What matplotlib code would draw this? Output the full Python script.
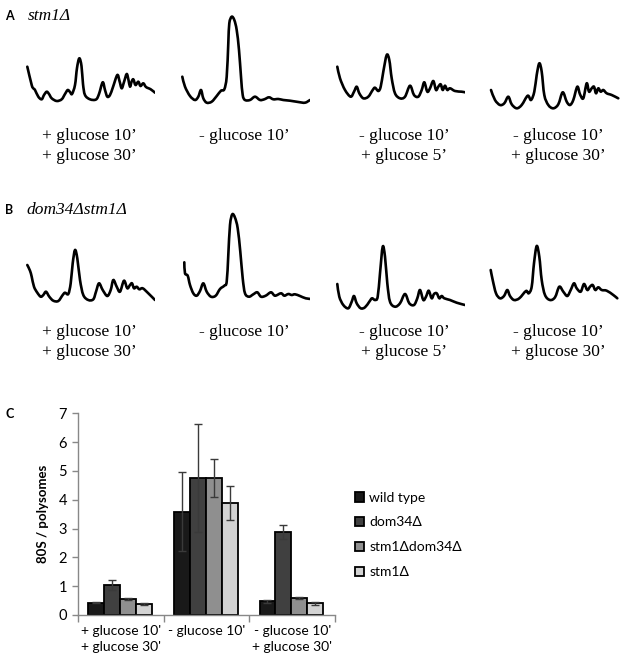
import numpy as np
import matplotlib
matplotlib.use("Agg")
import matplotlib.pyplot as plt
import matplotlib.transforms as mtransforms
from matplotlib.patches import Patch, PathPatch
from matplotlib.path import Path

# polysome profiles (x along gradient, height of A254 trace)
a1_x = [7.3, 11.7, 13.3, 15, 18.3, 21.7, 24, 26.7, 29, 31.7, 36.7, 41.7, 45, 47.7, 50, 52, 55, 57, 59.3, 61.5,
        63, 65, 70, 76, 79, 82.7, 85, 87.3, 90, 93, 97.3, 99.5, 101.7, 104, 106.7, 108.5, 110, 111.5, 113.3,
        115.5, 118.3, 120.5, 123.3, 126, 130.7, 135]
a1_y = [45.3, 27, 23.7, 22, 15.3, 12.7, 17, 20.3, 18, 13.7, 11, 12.7, 18, 22, 20, 18, 27, 44, 53.7, 46,
        28, 17, 12.7, 12.5, 18, 29.7, 22, 15.3, 17, 25, 37, 31, 23.7, 30, 38, 32, 25.3, 30, 32.7,
        27, 30.3, 26, 28.7, 25, 22.7, 19.3]
a2_x = [7.3, 10, 15, 20, 23.3, 26, 28.3, 31.7, 36.7, 41.7, 46, 49.3, 51.7, 53.3, 54.3, 56.7, 59.3, 61.7, 64, 66,
        67.7, 70, 75, 80, 85, 89.3, 94, 98.3, 103.3, 108.3, 115, 123.3, 130, 135]
a2_y = [35.3, 25.3, 16, 12, 15.3, 22, 13.7, 9.3, 10.3, 16, 21.3, 22.7, 35.3, 68.7, 88.7, 95.3, 92, 82, 62, 35.3,
        17, 12, 12, 15.3, 12, 12.7, 14.7, 12.7, 13, 12, 11.3, 10, 9.3, 12]
a3_x = [7.3, 10, 15, 20.7, 24, 26.7, 29.3, 33.3, 38.3, 42.7, 45, 48.3, 50.7, 53.3, 56.7, 59.3, 61.7, 65, 70, 75,
        80, 84, 88.3, 91.7, 94.3, 97.3, 100, 103.3, 106, 108.3, 110.7, 112.7, 115, 117.3, 120, 125, 131.7, 135]
a3_y = [45.3, 33.7, 22, 15.3, 20.3, 25.3, 18.7, 13.7, 15.3, 22, 24.3, 21, 25.3, 40.3, 57, 52, 33.7, 18.7, 13.7, 15.3,
        26.3, 17, 15.3, 22, 29.7, 20.3, 23.7, 31, 22, 25.3, 27.7, 22, 26.3, 22, 23.7, 21, 20.3, 19.7]
a4_x = [6, 10, 15, 19.3, 23.3, 26.7, 31.7, 36.7, 42.7, 46, 49.3, 51.7, 54.3, 56.7, 59.3, 63.3, 68.3, 73.3, 77.7,
        81.7, 85, 88.3, 92.3, 95, 98.3, 101.7, 104, 106.7, 109, 111, 113.3, 115.7, 118.3, 121.7, 126.7, 133.3]
a4_y = [22, 12, 7, 8.7, 15.3, 7.7, 3.7, 7, 16.3, 12, 20.3, 37, 48.7, 40.3, 17, 7, 3.7, 7.7, 19.7,
        10.3, 7, 12, 25.3, 17.7, 13.7, 28.7, 20.3, 23.7, 25.3, 18.7, 23.7, 20.3, 22, 18.7, 17, 13.7]

b1_x = [7.3, 10, 11.7, 14, 17.3, 20.7, 23.3, 26, 29.3, 33.3, 38.3, 42.7, 45, 48.3, 50.7, 52.7, 55, 57.3, 60, 63.3,
        68.3, 73.3, 76, 79, 82.7, 87.3, 90.7, 93.3, 96.7, 100, 104, 107.3, 110, 112, 114, 116.7, 119.3, 122.7,
        128.3, 135]
b1_y = [47, 41.3, 35.3, 25.3, 19.3, 15.3, 17, 20.3, 15.3, 11.3, 11, 17, 19.3, 18, 28.7, 48.7, 62, 53.7, 32, 17,
        12, 12.7, 20.3, 28.7, 22, 16, 22, 32, 25.3, 20.3, 31.3, 23.7, 27, 28.7, 23.7, 25.3, 22.7, 23.7,
        18.7, 12]
b2_x = [9.3, 10, 12.7, 15, 18.3, 21.7, 25, 28.3, 31.7, 36, 40.7, 45, 49.3, 51.7, 53.3, 55, 57.3, 60, 62.7, 65.3,
        67.7, 70, 74, 78.3, 82.3, 86, 90.7, 96, 100, 106, 109.3, 113.3, 116.7, 120, 125, 130.7, 136.7]
b2_y = [49.7, 38.7, 36.3, 27, 18.7, 16.3, 21, 28.7, 20.3, 15.3, 16.3, 23, 26.3, 30.3, 57, 87, 97.7, 94.3, 83.7, 60.3,
        33.7, 18.7, 15.3, 17.7, 19.7, 15.3, 16.3, 19.7, 16.3, 18.7, 16.3, 18, 17, 17.7, 16, 13.7, 13]
b3_x = [7.3, 9.3, 13.3, 18.3, 21.7, 24, 26.7, 30.7, 35, 39.3, 42, 45, 47.7, 50, 52.7, 55, 57.3, 60, 65, 70,
        75, 79.3, 84, 87.3, 90, 93.3, 96, 98.7, 101.7, 104, 106.7, 109.3, 111.7, 114.3, 120, 126.7, 135]
b3_y = [28, 15.3, 7, 3.7, 10.3, 16, 8.7, 3.7, 4.7, 10.3, 13.7, 12, 15.3, 38.7, 65.3, 55.3, 28.7, 10.3, 5.3, 8.7,
        18, 8.7, 7, 13.7, 22, 12, 15.3, 21.3, 13.7, 18, 18.7, 13.7, 16, 13.7, 12, 9.3, 7]
b4_x = [5.7, 7.7, 11, 15, 19, 22.3, 25, 29, 34.3, 41, 43.7, 46.7, 49, 51.7, 54.3, 56.7, 60, 65, 70, 74.3,
        78.3, 82.3, 85.7, 89, 91.7, 95.7, 99, 102.3, 105, 107.7, 110.3, 113.3, 116.7, 121.7, 128.3, 132.3]
b4_y = [42, 32, 18.7, 13.7, 16, 22, 16, 12, 13.7, 21, 18.7, 25.3, 48.7, 66, 55.3, 32, 17, 12, 14.7, 25.3,
        20.3, 16, 22, 28.7, 23.7, 20.3, 28, 22, 25.3, 27, 22, 24.7, 22, 21.3, 17, 13.7]

row_a = [(a1_x, a1_y), (a2_x, a2_y), (a3_x, a3_y), (a4_x, a4_y)]
row_b = [(b1_x, b1_y), (b2_x, b2_y), (b3_x, b3_y), (b4_x, b4_y)]
trace_labels = ["+ glucose 10\u2019\n+ glucose 30\u2019", "- glucose 10\u2019",
                "- glucose 10\u2019\n+ glucose 5\u2019", "- glucose 10\u2019\n+ glucose 30\u2019"]

# panel C: 80S / polysome ratio
conditions = ["+ glucose 10'\n+ glucose 30'", "- glucose 10'", "- glucose 10'\n+ glucose 30'"]
strains = ["wild type", "dom34\u0394", "stm1\u0394dom34\u0394", "stm1\u0394"]
ratio = {
    "wild type":        [0.43, 3.58, 0.47],
    "dom34\u0394":           [1.05, 4.75, 2.88],
    "stm1\u0394dom34\u0394":     [0.55, 4.75, 0.59],
    "stm1\u0394":            [0.37, 3.90, 0.40],
}
ratio_err = {
    "wild type":        [0.03, 1.37, 0.05],
    "dom34\u0394":           [0.17, 1.87, 0.23],
    "stm1\u0394dom34\u0394":     [0.03, 0.65, 0.02],
    "stm1\u0394":            [0.03, 0.59, 0.04],
}
bar_colors = ["#191919", "#404040", "#8f8f8f", "#d3d3d3"]

W, H = 620, 661
fig = plt.figure(figsize=(W / 100, H / 100), dpi=100)

serif = ["Liberation Serif", "DejaVu Serif"]
sans = ["Lato", "DejaVu Sans"]

def px_axes(left, top, width, height):
    return fig.add_axes([left / W, 1 - (top + height) / H, width / W, height / H])

# smooth curve through the read points (Catmull-Rom as cubic Bezier path)
def smooth_path(xs, ys):
    p = np.column_stack([xs, ys]).astype(float)
    ext = np.vstack([p[0], p, p[-1]])
    verts = [p[0]]
    codes = [Path.MOVETO]
    for i in range(1, len(ext) - 2):
        c1 = ext[i] + (ext[i + 1] - ext[i - 1]) / 6
        c2 = ext[i + 1] - (ext[i + 2] - ext[i]) / 6
        verts += [c1, c2, ext[i + 1]]
        codes += [Path.CURVE4] * 3
    return Path(verts, codes)

col_left = [20, 175, 330, 485]
col_center = [89, 244, 404, 558]

def draw_row(traces, top, label_y):
    for i, (xs, ys) in enumerate(traces):
        ax = px_axes(col_left[i], top, 135, 100)
        ax.add_patch(PathPatch(smooth_path(xs, ys), facecolor="none", edgecolor="black",
                               lw=1.9, joinstyle="round", capstyle="round"))
        ax.set_xlim(0, 135)
        ax.set_ylim(0, 100)
        ax.axis("off")
        fig.text(col_center[i] / W, 1 - label_y / H, trace_labels[i], ha="center", va="top",
                 family=serif, fontsize=12.5, linespacing=1.3)

draw_row(row_a, 12, 128)
draw_row(row_b, 212, 324)

fig.text(5 / W, 1 - 16 / H, "A", family=sans, weight="bold", fontsize=9, va="center")
fig.text(28 / W, 1 - 16 / H, "stm1\u0394", family=serif, style="italic", fontsize=12.5, va="center")
fig.text(5 / W, 1 - 210 / H, "B", family=sans, weight="bold", fontsize=9, va="center")
fig.text(26 / W, 1 - 210 / H, "dom34\u0394stm1\u0394", family=serif, style="italic", fontsize=12.5, va="center")
fig.text(5 / W, 1 - 414 / H, "C", family=sans, weight="bold", fontsize=9, va="center")

# bar chart
ax = px_axes(78.3, 413.3, 256.7, 201.7)
x = np.arange(len(conditions))
bw = 0.186
handles = []
for k, s in enumerate(strains):
    pos = x + (k - 1.5) * bw - 0.01
    ax.bar(pos, ratio[s], bw, color=bar_colors[k], edgecolor="black", linewidth=1.3, zorder=2)
    ax.errorbar(pos, ratio[s], yerr=ratio_err[s], fmt="none", ecolor="#3a3a3a",
                elinewidth=1, capsize=3, capthick=1, zorder=3)
    handles.append(Patch(facecolor=bar_colors[k], edgecolor="black", linewidth=1.3, label=s))

ax.set_xlim(-0.5, 2.5)
ax.set_ylim(0, 7)
ax.set_yticks(range(8))
ax.set_xticks(x)
ax.set_xticklabels(conditions, family=sans, fontsize=10, linespacing=1.45)
# the middle category label sits a little left in the original
mid = ax.get_xticklabels()[1]
mid.set_transform(mid.get_transform() + mtransforms.ScaledTranslation(-7 / 100, 0, fig.dpi_scale_trans))
ax.set_xticks([-0.5, 0.5, 1.5, 2.5], minor=True)
ax.tick_params(axis="x", which="major", length=0, pad=7)
ax.tick_params(axis="x", which="minor", length=5, color="#888888", width=1)
ax.tick_params(axis="y", length=4, color="#888888", width=1, pad=4)
for lab in ax.get_yticklabels():
    lab.set_family(sans)
    lab.set_fontsize(10.5)
for sp in ["top", "right"]:
    ax.spines[sp].set_visible(False)
for sp in ["left", "bottom"]:
    ax.spines[sp].set_color("#888888")
    ax.spines[sp].set_linewidth(1)
ax.set_ylabel("80S / polysomes", family=sans, weight="bold", fontsize=9.5, labelpad=7)

fig.legend(handles=handles, loc="upper left", bbox_to_anchor=(349 / W, 1 - 486 / H),
           frameon=False, prop={"family": sans, "size": 10}, handlelength=0.7, handleheight=0.7,
           handletextpad=0.35, labelspacing=0.93, borderaxespad=0)

fig.savefig("out.png", dpi=100)
